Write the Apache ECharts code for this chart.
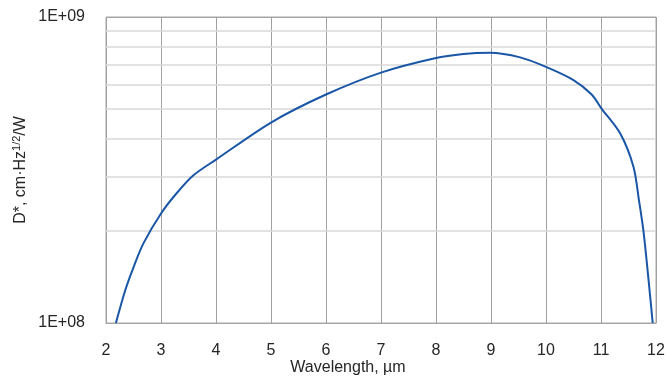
<!DOCTYPE html>
<html>
<head>
<meta charset="utf-8">
<script src="https://cdn.jsdelivr.net/npm/echarts@6/dist/echarts.min.js"></script>
<style>
  html, body { margin: 0; padding: 0; background: #fff; }
  #chart { width: 667px; height: 376px; }
</style>
</head>
<body>
<div id="chart"></div>
<script>
// wavelength (µm) and detectivity D*
const wavelength = [2.18, 2.35, 2.5, 2.68, 3.0, 3.28, 3.59, 4.0, 5.0, 6.0, 7.0, 7.98, 8.5, 8.98, 9.53, 10.0, 10.5, 10.83, 11.01, 11.35, 11.59, 11.69, 11.77, 11.86, 11.94]
const detectivity = [1.0e8, 1.28e8, 1.52e8, 1.82e8, 2.28e8, 2.65e8, 3.04e8, 3.42e8, 4.52e8, 5.58e8, 6.58e8, 7.33e8, 7.57e8, 7.64e8, 7.38e8, 6.87e8, 6.22e8, 5.58e8, 5.02e8, 4.16e8, 3.24e8, 2.52e8, 2.01e8, 1.41e8, 1.0e8]
// minor horizontal grid lines of the log axis
const minorGrid = [2e8, 3e8, 4e8, 5e8, 6e8, 7e8, 8e8, 9e8]

const font = 'Liberation Sans'
const chart = echarts.init(document.getElementById('chart'))

const option = {
  animation: false,
  grid: {
    left: 106,
    right: 11,
    top: 17,
    bottom: 53,
    outerBoundsMode: 'none',
    show: true,
    borderColor: '#a6a6a6',
    borderWidth: 1
  },
  xAxis: {
    type: 'value',
    min: 2,
    max: 12,
    interval: 1,
    name: 'Wavelength, µm',
    nameLocation: 'middle',
    nameGap: 37,
    nameMoveOverlap: false,
    nameTextStyle: { fontFamily: font, fontSize: 16, color: '#262626', padding: [0, 66, 0, 0] },
    axisLine: { lineStyle: { color: '#a6a6a6' } },
    axisTick: { show: false },
    axisLabel: { margin: 20, fontFamily: font, fontSize: 16, color: '#262626' },
    splitLine: { lineStyle: { color: '#a0a0a0', width: 1 } }
  },
  yAxis: {
    type: 'log',
    logBase: 10,
    min: 1e8,
    max: 1e9,
    name: 'D*, cm·Hz{sup|1/2}/W',
    nameLocation: 'middle',
    nameGap: 76,
    nameMoveOverlap: false,
    nameTextStyle: {
      fontFamily: font,
      fontSize: 16,
      color: '#262626',
      rich: {
        sup: { fontFamily: font, fontSize: 11, color: '#262626', verticalAlign: 'top', padding: [0, 0, 8, 0] }
      }
    },
    axisLine: { show: false },
    axisTick: { show: false },
    axisLabel: {
      margin: 21,
      fontFamily: font,
      fontSize: 16,
      color: '#262626',
      formatter: function(v) {
        const e = Math.round(Math.log10(v))
        return '1E+' + (e < 10 ? '0' + e : e)
      }
    },
    splitLine: { lineStyle: { color: '#a6a6a6' } }
  },
  series: [
    {
      // carries only the minor grid lines, kept under the curve
      type: 'line',
      z: 1,
      data: [],
      markLine: {
        z: 1,
        silent: true,
        symbol: 'none',
        label: { show: false },
        lineStyle: { color: '#d9d9d9', width: 1.5, type: 'solid' },
        data: minorGrid.map(v => ({ yAxis: v }))
      }
    },
    {
      type: 'line',
      z: 3,
      data: wavelength.map((x, i) => [x, detectivity[i]]),
      smooth: 0.3,
      showSymbol: false,
      lineStyle: { color: '#1a56a6', width: 2 }
    }
  ]
}

chart.setOption(option)
</script>
</body>
</html>
